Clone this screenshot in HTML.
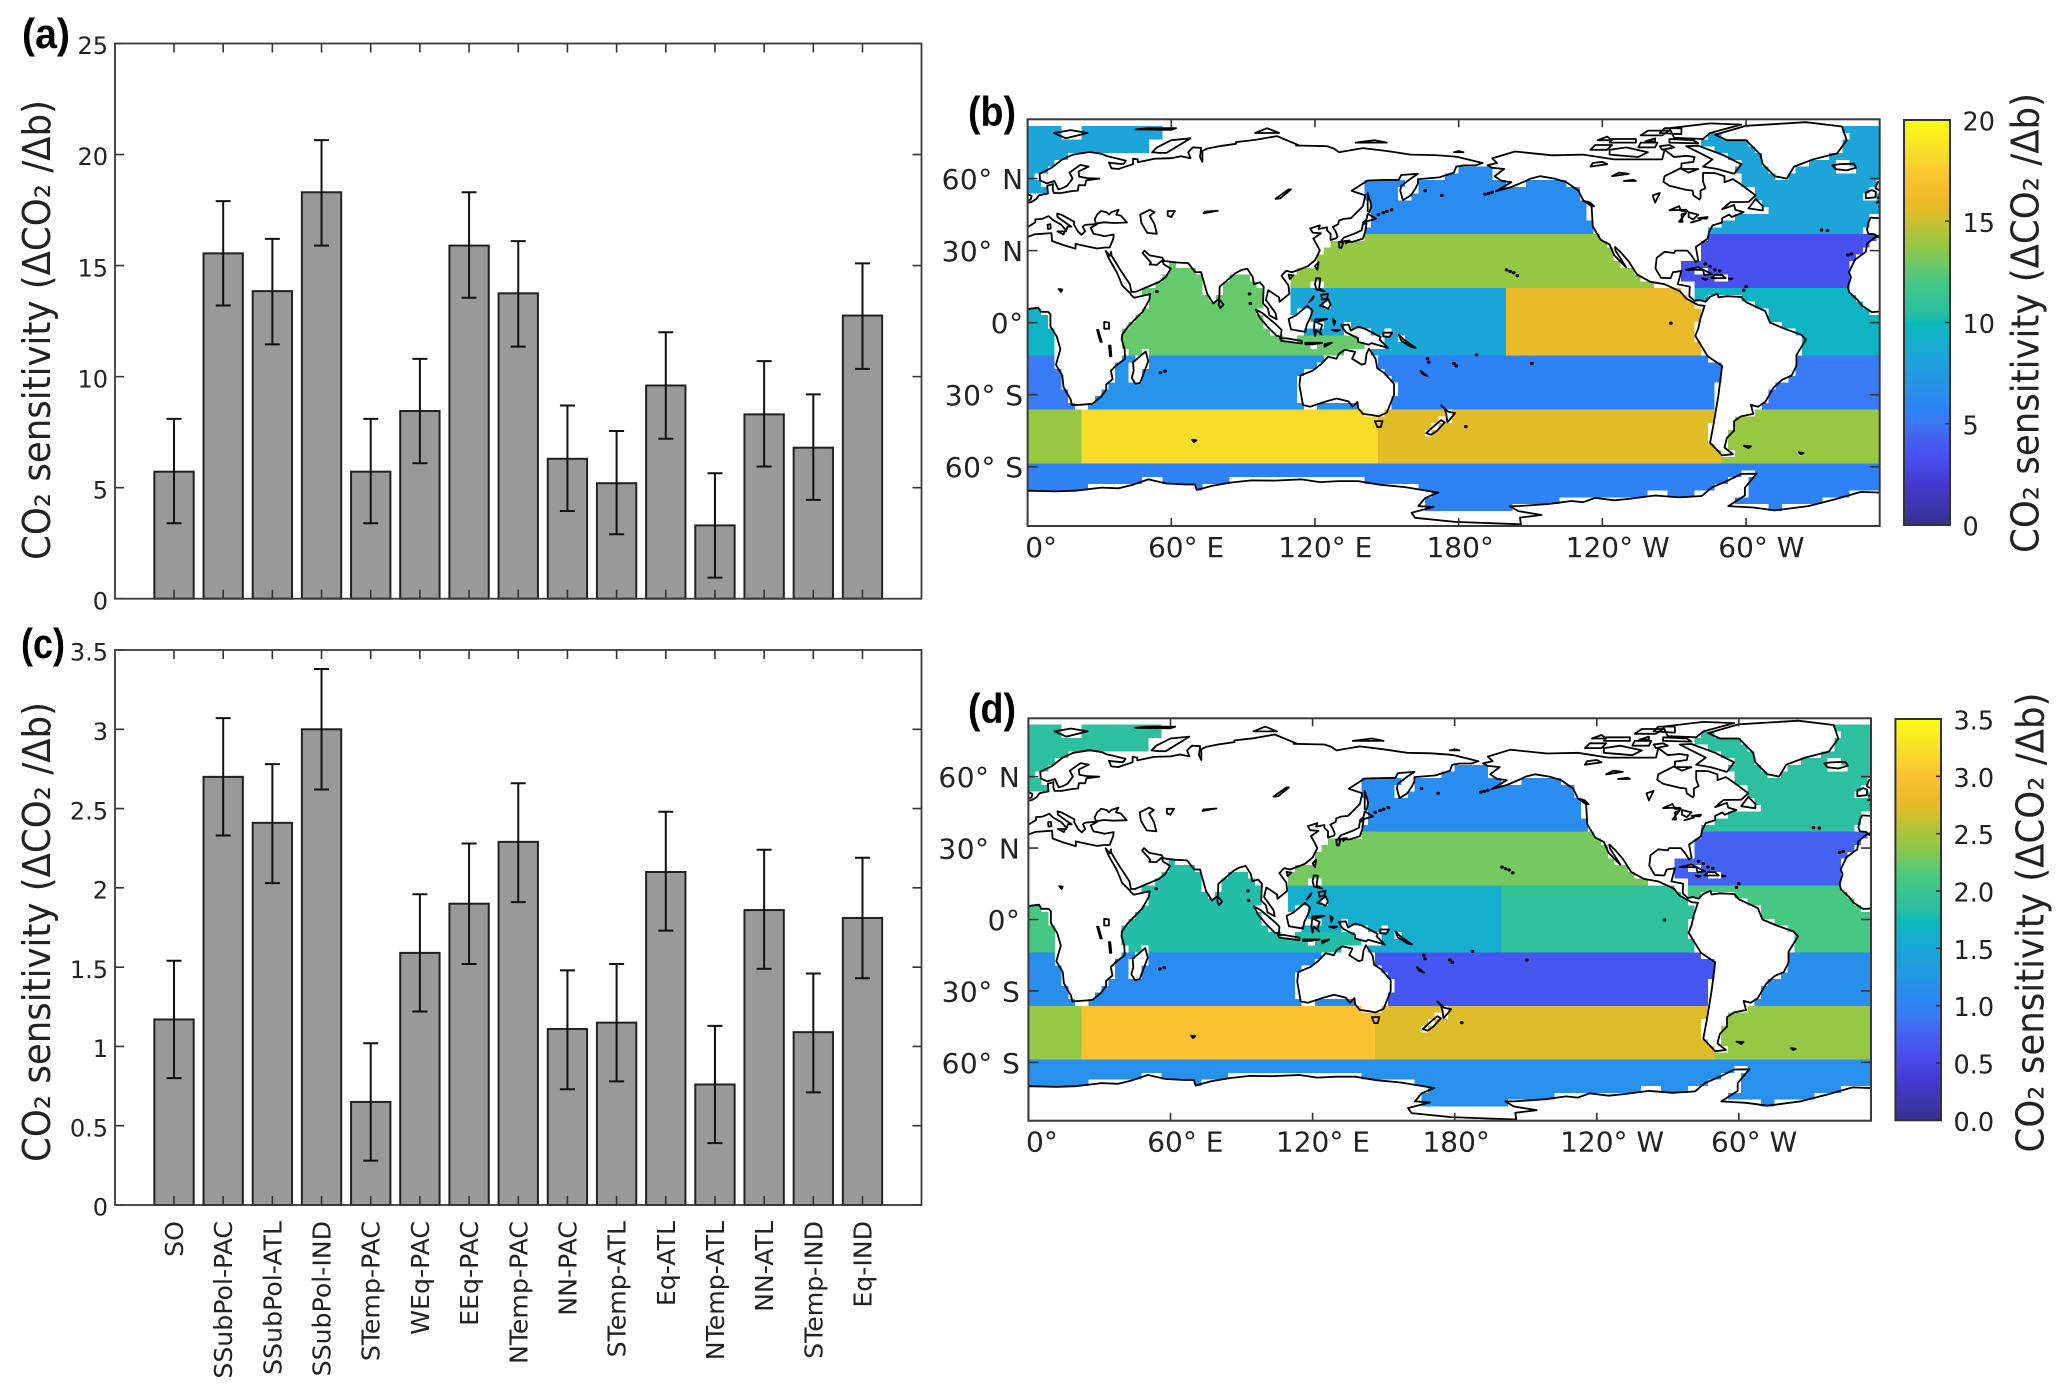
<!DOCTYPE html>
<html lang="en">
<head>
<meta charset="utf-8">
<title>CO2 sensitivity by region</title>
<style>
html,body{margin:0;padding:0;background:#fff;}
svg{display:block;}
text{font-family:"DejaVu Sans","Liberation Sans",sans-serif;fill:#222;}
.panel-tag{font-family:"Liberation Sans",sans-serif;font-weight:bold;fill:#000;}
</style>
</head>
<body>
<svg id="fig" xmlns="http://www.w3.org/2000/svg" width="2067" height="1397" viewBox="0 0 2067 1397">
  <rect x="0" y="0" width="2067" height="1397" fill="#fff"/>
  <text class="panel-tag" x="22" y="48" font-size="42" textLength="48" lengthAdjust="spacingAndGlyphs">(a)</text>
  <text class="panel-tag" x="968" y="126" font-size="42" textLength="48" lengthAdjust="spacingAndGlyphs">(b)</text>
  <text class="panel-tag" x="21" y="658" font-size="42" textLength="44" lengthAdjust="spacingAndGlyphs">(c)</text>
  <text class="panel-tag" x="968" y="723" font-size="42" textLength="48" lengthAdjust="spacingAndGlyphs">(d)</text>
  <text transform="translate(50,330) rotate(-90)" text-anchor="middle" font-size="38" textLength="460" lengthAdjust="spacingAndGlyphs">CO₂ sensitivity (ΔCO₂ /Δb)</text>
  <text transform="translate(50,932) rotate(-90)" text-anchor="middle" font-size="38" textLength="460" lengthAdjust="spacingAndGlyphs">CO₂ sensitivity (ΔCO₂ /Δb)</text>
  <text transform="translate(2038.5,323) rotate(-90)" text-anchor="middle" font-size="38" textLength="460" lengthAdjust="spacingAndGlyphs">CO₂ sensitivity (ΔCO₂ /Δb)</text>
  <text transform="translate(2043.5,922.5) rotate(-90)" text-anchor="middle" font-size="38" textLength="460" lengthAdjust="spacingAndGlyphs">CO₂ sensitivity (ΔCO₂ /Δb)</text>
</svg>
<script>
/* ---------- chart data ---------- */
const categories = ["SO","SSubPol-PAC","SSubPol-ATL","SSubPol-IND","STemp-PAC","WEq-PAC","EEq-PAC","NTemp-PAC","NN-PAC","STemp-ATL","Eq-ATL","NTemp-ATL","NN-ATL","STemp-IND","Eq-IND"];
const valuesA = [5.72,15.55,13.85,18.3,5.72,8.45,15.9,13.75,6.3,5.2,9.6,3.3,8.3,6.8,12.75];
const upperA  = [8.1,17.9,16.2,20.65,8.1,10.8,18.3,16.1,8.7,7.55,12.0,5.65,10.7,9.2,15.1];
const lowerA  = [3.4,13.2,11.45,15.9,3.4,6.1,13.55,11.35,3.95,2.9,7.2,0.95,5.95,4.45,10.35];
const valuesC = [1.17,2.70,2.41,3.00,0.65,1.59,1.90,2.29,1.11,1.15,2.10,0.76,1.86,1.09,1.81];
const upperC  = [1.54,3.07,2.78,3.38,1.02,1.96,2.28,2.66,1.48,1.52,2.48,1.13,2.24,1.46,2.19];
const lowerC  = [0.80,2.33,2.03,2.62,0.28,1.22,1.52,1.91,0.73,0.78,1.73,0.39,1.49,0.71,1.43];
const yTicksA = [0,5,10,15,20,25];
const yTicksC = [0,0.5,1,1.5,2,2.5,3,3.5];
const lonTicks = [0,60,120,180,240,300];
const lonTickLabels = ["0°","60° E","120° E","180°","120° W","60° W"];
const latTicks = [60,30,0,-30,-60];
const latTickLabels = ["60° N","30° N","0°","30° S","60° S"];
const barTicksB = [0,5,10,15,20];
const barTicksD = [0,0.5,1,1.5,2,2.5,3,3.5];
const barTickLabelsD = ["0.0","0.5","1.0","1.5","2.0","2.5","3.0","3.5"];

/* ---------- geography: flat lon,lat rings ---------- */
const coastRings = [
 /* Eurasia + Africa */
 [25.8,71.1,31,70.3,33,69.4,41,67.5,40,66,35,66.5,34,66.7,35,64.3,38,64,40,64.7,44,66,44,68.3,46,68,46,66.8,53,68.3,60,68.5,64,69.3,68,68.5,67,71,69,73,72.5,72.8,72,69,73,67,73,71.5,75,72.5,80,73.5,87,74.5,87,75.2,95,76.1,104,77.7,113,74,112,73.8,125,73.5,128,72.5,130,71,140,72.7,150,71.5,160,70,170,69.8,178,69.2,180,68.9,190,66.5,187,65.5,182,65.5,179,65,178,62.5,172,60.5,163,59.8,163,58,162,56,160,53,156.7,51,155.6,55,156,57,160,60,163,62,156,61.5,155,59.5,148,59.4,142,59.2,135.3,54.9,138,54,141,53,140,48.5,135,43.5,132,43.2,130,42.5,129.7,41,127.5,39.8,128.5,38.3,129.4,36,129,35.2,126.5,34.4,126.5,37,125,38.5,125,39.7,121.5,39,122,40.5,118,39.2,119,37.5,122.5,37.2,119.3,35,121,32,122,30,120,26,117,23.5,114,22.3,110.5,21,108,21.6,106,19.5,108.9,15.5,109.3,12,105.2,8.7,105,10.5,100.5,13.5,99.5,9.5,103.5,4,104,1.4,101,3,100.3,6,98.3,8,98.6,15,97,16.8,94.5,16,94,19,91.7,22.5,89,21.8,86.7,20.5,82,16.5,80.2,15,80,10,77.5,8,75,12,73,19,72.5,21,70,21,69,22.3,67,24.8,61.5,25.1,57,25.7,56.3,27,51,28,48.8,30,48,29,50.2,26.5,51.5,25,51,24.2,54,24.1,56.3,26,56.8,24.4,59.8,22.5,57.7,19,55,17,52,15.7,45,12.8,43.3,12.8,42.7,16,39,21.5,35,28,34.9,29.5,34.3,27.8,32.6,29.9,33.8,27,35.5,24,37.2,21,38.5,18,39.5,15.5,43,12,43.2,11.5,44.5,10.4,51.2,11.9,50.8,9.5,48,4.5,42,-1.5,39.5,-5,39.3,-7,40.5,-11,40.7,-15,37,-17.8,34.8,-20,35.5,-23.5,32.8,-25.8,32.8,-28,30.5,-31,27,-33.8,22,-34.2,18.5,-34.4,18,-32,15,-26.8,14.5,-22,11.8,-17.5,13.7,-11,12.2,-5.8,9.5,-1.5,9.5,3.5,8.5,4.5,5.5,4.5,4.5,6.2,1,5.8,-2,4.8,-7.5,4.4,-11.5,7,-13.5,9.5,-16.8,12.5,-17.5,14.7,-16.2,19,-17,21,-14.5,26.2,-10,29.5,-9.5,32.8,-6,35.8,-2,35,3,36.8,10,37.3,10.2,34,15,32.3,20,30.8,20,32.8,25,31.7,29,30.9,32.3,31.3,34.3,31.3,35.8,35,36,36.7,32,36,30.5,36.4,27.5,37,26.3,39.5,29,41,28,41,24,40.7,23,40,24,38,22.5,36.6,21,38,19.3,41,19.5,42,14,45,12.3,45.4,12.5,44,16,41.5,18.3,40,16.7,40,16,38,15.8,38.8,14,40.8,10.5,42.8,8.8,44.4,6,43.2,3.2,43,3.2,41.8,0,39.8,-0.5,38,-2,36.8,-5.5,36,-6.3,36.8,-8.9,37,-9.5,38.7,-8.8,42,-8,43.7,-2,43.4,-1.2,46,-4.5,48.2,-1.5,48.7,-1.5,49.7,1.5,50.2,3.5,51.4,4.7,53,8.5,53.8,8.2,57,10.6,57.7,10.5,55.5,11,54,14,54,18.5,54.8,21,55,21.3,57.3,24,57.2,24.5,59.3,30,60,25,60.2,21.5,60.8,21.3,63,25.5,65,22,65.7,17.5,62.5,18.8,60,16.5,57,14.5,56,12.8,55.5,11.2,59,8,58,5.2,59.3,5,62,10,64.5,14.5,68,19,70],
 /* Americas */
 [-168,65.6,-164,66.5,-166,68.4,-156.5,71.3,-141,69.7,-128,70,-115,68,-108,68,-95,68,-94,72,-90,69,-85,69.5,-81.5,69,-82,67,-87,66.3,-87,64.5,-94,61,-94.5,58.7,-92,57,-85,55.3,-82.3,55,-82,53,-79.5,51.3,-79,52,-79,55,-77,56,-78,58.8,-78,62.4,-73,62.3,-69,61,-69,58.5,-65.5,59.8,-62,57.5,-56,53,-59,50.3,-66.5,50.2,-70,47.2,-65,49,-64.5,47,-61,46,-66,44,-67,45,-70,43.5,-70,41.7,-74,40.5,-75.5,37.5,-76,35,-81,31.5,-80,26,-81,25.2,-82.8,28,-84.5,30,-89.5,30,-90,29,-94,29.5,-97.3,27,-97.8,22.5,-95.5,18.7,-91.5,18.5,-90.5,21,-87,21.5,-88.5,16,-83.5,15,-83.7,11,-81.5,9,-79.5,9.5,-77,8.7,-75,10.8,-72,12,-71.5,10.5,-68,11,-62,10.7,-60,8.5,-52,4.8,-50,0,-44,-2.5,-37,-5,-35,-7,-39,-13.5,-39,-18,-41,-22,-45,-23.8,-48.5,-27,-52,-33,-55,-35,-58,-34.2,-57,-38,-62,-39,-65,-41,-65,-45,-68,-48,-69,-52,-65.5,-54.8,-70,-55.3,-75,-50,-73.5,-42,-71.5,-30,-70,-18,-76,-14,-81.2,-5.5,-80,-2.5,-79,2,-77.3,7,-80,7.3,-85,10,-87.5,13,-94,16,-100,17,-105.5,20,-109,25.5,-112.5,29.5,-114.7,31.5,-114.5,30,-110,23,-112,25,-115,28,-117,32.5,-120.7,34.5,-124,40,-124.5,48.4,-128,51,-130,55,-135,58.5,-140,60,-146,61,-150,60,-152,59,-158,56.5,-164.5,54.7,-158,58.5,-162,59,-165,61,-161,64,-166,64.5],
 /* Greenland */
 [-73,78.3,-60,82,-35,83.5,-20,81.7,-18,76,-22,70.5,-32,68,-40,65,-43,60,-48,61,-53,66,-54,70,-60,76,-68,76],
 /* Canadian Arctic */
 [-62,66,-65,62,-72,64,-78,65,-74,68,-80,71,-85,73.5,-80,73.7,-70,70],
 [-90,77,-78,76.5,-75,79,-62,82.5,-75,83,-92,81],
 [-92,75,-80,74.7,-82,76,-92,76.5],
 [-117,70,-105,69,-101,71,-110,73,-117,72],
 [-125,72,-118,72,-116,74,-123,74],
 [-117,75,-106,75,-106,76.5,-116,76.5],
 [-95,72,-90,73,-92,74,-96,73.5],
 [-105,73,-98,73,-97,75,-104,75],
 [-104,78,-95,78,-92,80,-101,80],
 [-96,79,-87,78.5,-87,81,-94,81],
 [-122,76,-116,76,-118,77.5],
 [-102,75.5,-98,75.5,-98,76.8],
 [-87,64,-80,64,-84,62.5],
 [-59,47.6,-53,46.7,-53,48.5,-56,51.5],
 [-128,50.8,-123.5,48.4,-125,50],
 /* Europe islands */
 [-5.5,50,1.3,51.2,1.7,52.8,0,53.5,-1.5,55,-2,57.5,-3,58.6,-5,58.6,-6,56,-3,54.5,-3,53.3,-5,52,-3,51.4],
 [-6,52.2,-10,51.8,-10,54.2,-7.5,55.2,-5.8,54.5],
 [-22.5,63.9,-18,63.4,-14,64.6,-15,66.2,-21,66,-24,65.5],
 [52,71,55,70.7,58,70.7,68,76.8,60,76,54,73],
 [11,79,16,76.8,25,79,18,80.2],
 [45,80.5,60,80.3,62,81,50,81],
 [95,79,105,79,100,81],
 [137,75,150,75,145,76],
 [178,71,182,71,180,71.5],
 [8.5,39,9.7,39.2,9.5,41,8.3,40.8],
 [12.5,38,15.5,38,15,36.7],
 /* Africa / Indian Ocean */
 [49.3,-12,50.4,-16,47,-25,45,-25.5,43.5,-23,44.3,-20,44,-16.5],
 [80,9.7,81.8,7.5,80.5,6,79.8,7.5],
 /* Southeast Asia */
 [95.3,5.5,98,4,104,-1,106,-3,105.8,-5.8,104,-5.5,100.5,-2,97,2],
 [105.3,-6.5,108,-6.5,114.5,-7.6,114.5,-8.7,106,-7.6],
 [109,1.5,112,3,116.8,7,119,5,118,2,116.5,-1,116,-3.8,114,-3.5,110,-2.8],
 [120,1.3,125,1.5,120.5,0.3,123,-1,122,-4,122.8,-5,120.5,-3,120,-5.5,119.5,-3,119.8,0],
 [131,-1,134,-0.8,135,-3.3,138,-1.7,141,-2.6,145.5,-5,147.5,-6,147,-7,150.5,-10.5,147,-9.5,143.5,-8.5,142.5,-9.2,138,-8,138,-6.5,133,-4,132,-2.8],
 [120.5,18.5,122.2,18.4,121.7,14.3,124,13,120.6,13.8,120,16],
 [122,7,125.5,9.8,126.5,7.5,125.5,5.8,124,6.5],
 [118,9,119.5,11,119,10,117.5,8.5],
 [122.5,11.5,125.5,12,125,10.2,123,9.5],
 [121.5,25.2,121,22,120,23.5],
 [109,20,111,19.7,109.5,18.2],
 [124,-9,127,-8.4,124,-10],
 [116,-8.4,119,-8.4,123,-8.4,119,-9,116,-9],
 [127.5,1.5,128.5,0.5,128,-1],
 [127,-3,130.5,-3,129,-3.6],
 [148.5,-4.2,152.3,-4.2,151,-6,148.5,-5.7],
 /* East Asia */
 [130.9,34,135.5,33.6,140,35,141,38,141.5,41.4,140,41,139.5,38.5,136.8,37.2,132,35.4],
 [130,33.6,131.8,33.4,131,31,130.2,31.3],
 [132.5,34,134.5,34.2,133,33],
 [140,41.7,145.5,43.3,142,45.4,141.5,43],
 [142,54,143.5,49,142.8,46,142,46.5,142,50],
 /* Australasia */
 [114,-22,113.5,-26,115,-34.3,118,-35,124,-33,129,-31.6,134,-32.8,135.7,-35,137.7,-33,138,-35.6,140,-38,144,-38.5,146.5,-39,150,-37.5,153,-30,153,-25.5,149,-21,146,-19,145.3,-15,142.5,-10.8,141.5,-13,141,-17,139.5,-17.5,135.5,-15,136.8,-12.2,132.5,-11.3,130,-13,129,-15,125.5,-14.2,122.3,-17.5,119,-20],
 [172.7,-34.5,175.5,-37,178.5,-37.7,175.3,-41.5,174.8,-38,174.2,-36],
 [172.7,-40.6,174.2,-41.5,171,-45,168.5,-46.7,166.5,-46,170,-42.8],
 [155,-5,157,-7,162,-10.5,160,-10,156,-7.5],
 [164,-20,167,-22.3,165,-21.5],
 /* Caribbean */
 [-85,22,-80,23.1,-74.2,20.2,-77.5,19.9,-78,22],
 [-74.5,18.5,-68.5,18.5,-70,19.8,-73,19.9],
 [-78.3,18.4,-76.2,18.2,-77,17.8],
 [-67.2,18.4,-65.7,18.3,-66.5,18],
 /* Kerguelen, Falklands, South Georgia */
 [68.7,-48.8,70.5,-49,69.5,-49.8],
 [-61,-51.3,-58,-51.5,-59,-52.3],
 [-38,-54,-36,-54.3,-37,-54.8],
 /* Antarctica */
 [0,-70,12,-70.3,20,-70,30.9,-68.7,38,-69,44,-67.5,50.4,-65.3,58,-67,66,-67.4,69.9,-67.4,70.6,-69.7,76.9,-68,85,-66.6,93.5,-65.7,103,-65.8,114.4,-65.3,122,-66.4,129.8,-66,138,-66,147,-67.5,157.6,-68.5,171.5,-70.8,166,-73,163.2,-76.4,169.5,-76.8,160.3,-79.2,161.8,-81.3,178.5,-83,206,-84,205.6,-81.2,214.6,-80.1,204.9,-78.5,201.4,-76.4,205,-76.4,218,-75.5,227,-74.3,232,-74.8,237,-73,245,-74,252,-73.3,262,-72,272,-72.8,281.5,-72.2,285.6,-68.7,292,-66,298,-63,304.4,-62.9,299.5,-68.7,299.5,-72,292.6,-76.4,303,-77,312,-78.2,326,-76.4,337,-73.6,348,-70.5,356,-70.8,362,-70,362,-90,0,-90]
];
const outlineOnlyRings = [
 [145,-41,148.2,-41,147.5,-43.5,146,-43.5],
 [28,43,28.5,41.3,32,41.8,36,41.5,41.5,41.7,39,44.5,37,45,38,47,35,46,34,45,33,46,30.7,46.5,29,45],
 [47,45,51,47,53,46,51,44.5,53,41,54,37,50,37.4,49,39,47.5,41.5],
 [58.5,46.5,61.5,46.5,60,44,58.5,44.5],
 [103.5,51.6,109,55.5,110,55.5,105.5,51.8],
 [73.5,45.6,79.4,46.6,74,46.2],
 [32,0.3,34,0,34,-2.5,32,-2.5],
 [29,-3,29.5,-3,31,-8,30.4,-8],
 [34,-9.5,34.6,-9.5,35,-14,34.4,-14],
 [13,14,14.5,13.8,14,12.8],
 [-92,46.8,-85,47,-84.5,46.5,-87,46.5,-88,48.5],
 [-88,42,-85,45.8,-87,45,-86.5,42],
 [-84,46,-80,45,-82,43,-84,44],
 [-83,41.7,-79,42.8,-80,42.6],
 [-80,43.5,-76,44,-76.5,43.3],
 [-125,65,-118,66,-120,67,-124,66.5],
 [-116,61,-109,62,-113,62.5],
 [-98,50,-96,54,-99,53],
 [-111,59,-106,59,-107,59.5]
];
const noCoverRings = [
 [56,90,56,76.5,51,76.5,51,71,17,71,17,60,60,60,100,55,192,65.8,200,68,240,66,262,66,266,50,283,50,283,66,279,72,281,76,281,80,296,84,296,90],
 [283,58,296,58,296,66,283,66],
 [-5.5,30,62,30,62,48,-1,48,-1,44,-5.5,42],
 [10,53,32,53,32,68,10,60],
 [32,30,36,30,44,12,41,12],
 [47,31,57,27,57,24,48,24],
 [99,3,110,3,110,24,99,24],
 [104,3,115,3,115,-6.5,106,-6.5],
 [136,-10.5,143,-10.5,143,-18,136,-18],
 [118,31.4,124,31.4,127,34.2,140,35.5,141,42,141.5,56,118,60],
 [-71,42.5,-66,42.5,-62,45.5,-51,45.8,-51,49,-56.3,49,-56.3,56,-62,56,-62,62,-70,62],
 [-100,17,-87,17,-87,26,-81.5,26,-81,32,-100,32],
 [-87,14,-81.3,14,-81.3,17.5,-87,17.5],
 [-115,32,-108,24,-111,23,-116,30]
];
const islets = [[200,22],[201.5,21.3],[203,20.8],[204.5,19.6],[166,55],[173,53],[191,53.5],[192.5,53.8],[194,54.3],[146.5,45],[148.5,45.8],[150,46.3],[152,47],[167,-15],[167.5,-16.5],[178,-17],[179,-18],[187.5,-13.4],[210.5,-17],[183,-43.3],[268.6,-0.2],[55.5,-20.8],[57.4,-20.2],[344,28.6],[342.5,28.2],[331.5,38.6],[334,38.4],[54,12.9],[-77,24.5],[-75,23.5],[-73,22],[-71,21.5],[-60,15],[-61,13.5],[92.7,12],[93,8]];

/* ---------- colour scale ---------- */
const colormapStops = [[0,'#3a2f8f'],[0.05,'#3e36b0'],[0.1,'#4339d0'],[0.165,'#4850f0'],[0.217,'#4462f2'],[0.25,'#3c78f5'],[0.285,'#2e82f6'],[0.315,'#2a8cef'],[0.42,'#1ca5d8'],[0.48,'#0fb4c4'],[0.5,'#0cbab8'],[0.52,'#28bfa5'],[0.54,'#2fc19c'],[0.6,'#44c884'],[0.6375,'#66c96c'],[0.6875,'#94c844'],[0.72,'#aec43a'],[0.775,'#e0bd28'],[0.8,'#edb92a'],[0.857,'#fcc232'],[0.915,'#f8dc2a'],[1,'#fbfb14']];

const NS = 'http://www.w3.org/2000/svg';
const fig = document.getElementById('fig');
function mk(parent, tag, attrs, txt) {
  const e = document.createElementNS(NS, tag);
  for (const k in attrs) e.setAttribute(k, attrs[k]);
  if (txt !== undefined) e.textContent = txt;
  parent.appendChild(e);
  return e;
}
function hex(c){return [parseInt(c.slice(1,3),16),parseInt(c.slice(3,5),16),parseInt(c.slice(5,7),16)];}
function cmap(t){
  t = Math.max(0, Math.min(1, t));
  for (let i = 1; i < colormapStops.length; i++) {
    if (t <= colormapStops[i][0]) {
      const a = colormapStops[i-1], b = colormapStops[i], f = (t-a[0])/(b[0]-a[0]);
      const ca = hex(a[1]), cb = hex(b[1]);
      return 'rgb(' + ca.map((v,j)=>Math.round(v+(cb[j]-v)*f)).join(',') + ')';
    }
  }
  return colormapStops[colormapStops.length-1][1];
}

/* ---------- bar charts ---------- */
function drawBars(key, box, yMax, vals, up, lo, yTicks) {
  const g = mk(fig, 'g', {});
  
  
  const xs = i => box.l + (i + 1 + 0.2) / 16.4 * (box.r - box.l);
  const ys = v => box.b - v / yMax * (box.b - box.t);
  const bw = 0.8 / 16.4 * (box.r - box.l);
  categories.forEach((c, i) => {
    const bar = mk(g, 'rect', {x: xs(i)-bw/2, y: ys(vals[i]), width: bw, height: box.b-ys(vals[i]), fill:'#999999', stroke:'#222', 'stroke-width':2});
    
    
    const err = mk(g, 'path', {d:`M${xs(i)} ${ys(up[i])}V${ys(lo[i])}M${xs(i)-7.5} ${ys(up[i])}h15M${xs(i)-7.5} ${ys(lo[i])}h15`, fill:'none', stroke:'#111', 'stroke-width':2});
    
    
    const tk = mk(g, 'path', {d:`M${xs(i)} ${box.t}v9M${xs(i)} ${box.b}v-9`, stroke:'#333', 'stroke-width':1.6, fill:'none'});
    
    
  });
  yTicks.forEach(v => {
    const tk = mk(g, 'path', {d:`M${box.l} ${ys(v)}h9M${box.r} ${ys(v)}h-9`, stroke:'#333', 'stroke-width':1.6, fill:'none'});
    
    
    const t = mk(g, 'text', {x: box.l-7, y: ys(v)+10.7, 'text-anchor':'end', 'font-size':24}, String(v));
    
    
  });
  const frame = mk(g, 'rect', {x:box.l, y:box.t, width:box.r-box.l, height:box.b-box.t, fill:'none', stroke:'#3a3a3a', 'stroke-width':1.8});
  
  
  return xs;
}
const boxA = {l:115, r:921.5, t:43.5, b:598.7};
const boxC = {l:115, r:921.5, t:650, b:1205};
drawBars('a', boxA, 25, valuesA, upperA, lowerA, yTicksA);
const xsC = drawBars('c', boxC, 3.5, valuesC, upperC, lowerC, yTicksC);
categories.forEach((c, i) => {
  const t = mk(fig, 'text', {transform:`translate(${xsC(i)+9},1221) rotate(-90)`, 'text-anchor':'end', 'font-size':25.2}, c);
  
  
});

/* ---------- land mask on the 2.8125 degree model grid ---------- */
const CELL = 2.8125, LAT_SHIFT = 0.3;
function bbox(r){let a=1e9,b=-1e9,c=1e9,d=-1e9;for(let i=0;i<r.length;i+=2){a=Math.min(a,r[i]);b=Math.max(b,r[i]);c=Math.min(c,r[i+1]);d=Math.max(d,r[i+1]);}return [a,b,c,d];}
const landBoxes = coastRings.map(bbox), coverBoxes = noCoverRings.map(bbox);
function inRing(r, x, y){
  let inside = false;
  for (let i = 0, j = r.length-2; i < r.length; j = i, i += 2) {
    const yi=r[i+1], yj=r[j+1];
    if ((yi>y)!==(yj>y) && x < (r[j]-r[i])*(y-yi)/(yj-yi)+r[i]) inside = !inside;
  }
  return inside;
}
function inSet(rings, boxes, lon, lat){
  for (let k = 0; k < rings.length; k++) {
    const b = boxes[k];
    if (lat<b[2]||lat>b[3]) continue;
    if (lon>=b[0]&&lon<=b[1]&&inRing(rings[k],lon,lat)) return true;
    const l2 = lon-360;
    if (l2>=b[0]&&l2<=b[1]&&inRing(rings[k],l2,lat)) return true;
  }
  return false;
}
function regionOf(lon, lat){
  if (lat >= 37) return (lon>=100 && lon<262) ? 8 : 12;
  if (lat >= 14.4) {
    if (lon>=100 && lon<264) return 7;
    if (lon>=30 && lon<100) return 14;
    return 11;
  }
  if (lat >= -13.7) {
    if (lon < 22.5) return 10;
    if (lon < (lat < -4.5 ? 140.6 : 105)) return 14;
    if (lon < 199.69) return 5;
    if (lon < (lat >= 8.5 ? 277 : 295)) return 6;
    return 10;
  }
  if (lat >= -36.2) {
    if (lon < 22.5) return 9;
    if (lon < 146.25) return 13;
    if (lon < 289.69) return 4;
    return 9;
  }
  if (lat >= -58.7) {
    if (lon < 22.5) return 2;
    if (lon < 146.25) return 3;
    if (lon < 289.69) return 1;
    return 2;
  }
  return 0;
}
const grid = [];
for (let k = 29; k > -28; k--) {
  const row = [], latC = k*CELL + LAT_SHIFT - CELL/2;
  for (let i = 0; i < 128; i++) {
    const lonC = (i+0.5)*CELL, d = CELL*0.35;
    let hit = -1;
    if (!inSet(noCoverRings, coverBoxes, lonC, latC)) {
      let n = 0;
      [[0,0],[d,d],[d,-d],[-d,d],[-d,-d]].forEach(o => { if (inSet(coastRings, landBoxes, lonC+o[0], latC+o[1])) n++; });
      if (n < 2) hit = regionOf(lonC, latC);
    }
    row.push(hit);
  }
  grid.push({k, row});
}

/* ---------- maps ---------- */
function ringPath(r, X, Y, off){
  let d = '';
  for (let i = 0; i < r.length; i += 2) d += (i?'L':'M') + X(r[i]+off).toFixed(1) + ' ' + Y(r[i+1]).toFixed(1);
  return d + 'Z';
}
function drawMap(key, box, latMax, lonSpan, vals, vMax){
  const X = lon => box.l + lon/lonSpan*(box.r-box.l);
  const cy = (box.t+box.b)/2;
  const Y = lat => cy - lat/latMax*(box.b-box.t)/2;
  const g = mk(fig, 'g', {});
  
  
  const clip = mk(g, 'clipPath', {id:'clip-'+key});
  mk(clip, 'rect', {x:box.l, y:box.t, width:box.r-box.l, height:box.b-box.t});
  const inner = mk(g, 'g', {'clip-path':`url(#clip-${key})`});
  const paths = categories.map(() => '');
  grid.forEach(rw => {
    const y0 = Y(rw.k*CELL+LAT_SHIFT), y1 = Y((rw.k-1)*CELL+LAT_SHIFT);
    let i = 0;
    while (i < 128) {
      const h = rw.row[i];
      let j = i+1;
      while (j < 128 && rw.row[j] === h) j++;
      if (h >= 0) paths[h] += `M${X(i*CELL).toFixed(2)} ${y0.toFixed(2)}H${X(j*CELL).toFixed(2)}V${y1.toFixed(2)}H${X(i*CELL).toFixed(2)}Z`;
      i = j;
    }
  });
  categories.forEach((c, idx) => {
    const p = mk(inner, 'path', {d:paths[idx], fill:cmap(vals[idx]/vMax), 'shape-rendering':'crispEdges'});
    
    
  });
  let coast = '';
  coastRings.concat(outlineOnlyRings).forEach(r => { coast += ringPath(r,X,Y,0) + ringPath(r,X,Y,360); });
  const cp = mk(inner, 'path', {d:coast, fill:'none', stroke:'#000', 'stroke-width':1.8, 'stroke-linejoin':'round'});
  
  
  islets.forEach(p => {
    const lon = p[0] < 0 ? p[0]+360 : p[0];
    const dot = mk(inner, 'ellipse', {cx:X(lon), cy:Y(p[1]), rx:1.8, ry:1.6, fill:'#000'});
    
    
  });
  lonTicks.forEach((v, i) => {
    const x = X(v);
    const tk = mk(g, 'path', {d:`M${x} ${box.t}v8M${x} ${box.b}v-8`, stroke:'#333', 'stroke-width':1.6, fill:'none'});
    
    
    const label = lonTickLabels[i];
    const head = label.split(' ')[0];
    const w = (head.length-1)*17.8 + 11;
    const extra = (label.length > 5 || label.endsWith('W')) ? -4.5 : 0;
    const t = mk(g, 'text', {x:x-w/2+extra+(v===0?12:0), y:box.b+31, 'font-size':28}, label);
    
    
  });
  latTicks.forEach((v, i) => {
    const y = Y(v);
    const tk = mk(g, 'path', {d:`M${box.l} ${y}h10M${box.r} ${y}h-10`, stroke:'#333', 'stroke-width':1.6, fill:'none'});
    
    
    const t = mk(g, 'text', {x:box.l-box.gap, y:y+10.5, 'text-anchor':'end', 'font-size':28, 'letter-spacing':0.5}, latTickLabels[i]);
    
    
  });
  const frame = mk(g, 'rect', {x:box.l, y:box.t, width:box.r-box.l, height:box.b-box.t, fill:'none', stroke:'#3a3a3a', 'stroke-width':2});
  
  
}
function drawColorbar(key, box, vMax, ticks, labels){
  const defs = mk(fig, 'defs', {});
  const lg = mk(defs, 'linearGradient', {id:'grad-'+key, x1:0, y1:1, x2:0, y2:0});
  colormapStops.forEach(s => mk(lg, 'stop', {offset:s[0], 'stop-color':s[1]}));
  const g = mk(fig, 'g', {});
  
  
  const bar = mk(g, 'rect', {x:box.l, y:box.t, width:box.r-box.l, height:box.b-box.t, fill:`url(#grad-${key})`, stroke:'#333', 'stroke-width':2});
  
  
  ticks.forEach((v, i) => {
    const y = box.b - v/vMax*(box.b-box.t);
    const tk = mk(g, 'path', {d:`M${box.r} ${y}h-5`, stroke:'#333', 'stroke-width':1.6, fill:'none'});
    
    
    const t = mk(g, 'text', {x:box.r+12.5, y:y+10.5, 'font-size':25.5}, labels[i]);
    
    
  });
}
drawMap('b', {l:1027.6, r:1879.7, t:119.3, b:526, gap:4}, 84.7, 355.8, valuesA, 20);
drawMap('d', {l:1028.4, r:1871, t:718.3, b:1120.7, gap:8}, 84.5, 355.8, valuesC, 3.5);
drawColorbar('b', {l:1904, r:1950, t:120, b:525}, 20, barTicksB, barTicksB.map(String));
drawColorbar('d', {l:1895.4, r:1941, t:719, b:1120.3}, 3.5, barTicksD, barTickLabelsD);
</script>
</body>
</html>
